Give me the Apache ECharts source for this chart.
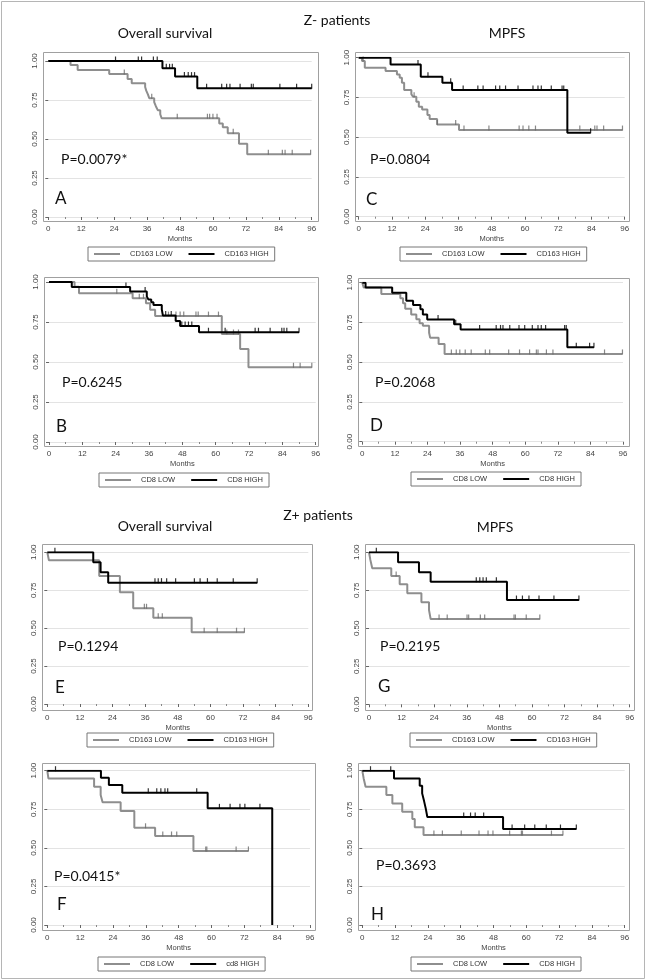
<!DOCTYPE html>
<html>
<head>
<meta charset="utf-8">
<script src="https://cdn.jsdelivr.net/npm/echarts@6/dist/echarts.min.js"></script>
<style>
html,body{margin:0;padding:0;background:#fff;}
#c{width:646px;height:980px;}
</style>
</head>
<body>
<div id="c"></div>
<script>
// ---- Data (time in months, survival probability) ----
const xTicks = [0,12,24,36,48,60,72,84,96];
const yTicks = [0,0.25,0.5,0.75,1];

// A: Z- OS, CD163
const A_low = [[0,1],[8.1,0.974],[10.7,0.942],[22.2,0.917],[28.9,0.885],[30.4,0.857],[35.3,0.833],[35.7,0.81],[36.3,0.786],[36.8,0.762],[38.6,0.736],[39.2,0.71],[39.9,0.685],[40.8,0.659],[41.3,0.633],[62.3,0.60],[63.6,0.575],[65.4,0.537],[69.5,0.47],[72.5,0.403],[95.6,0.403]];
const A_low_cens = [27.7,37.7,47,58,58.8,60,61.5,67.4,80.2,85.3,86.3,88.9,95.6];
const A_high = [[0,1],[41.6,0.953],[46.2,0.90],[54.3,0.825],[96,0.825]];
const A_high_cens = [24.5,32.8,34,38.3,39.7,43,44.2,45.2,49.6,51,52.2,53.3,57.7,63.2,65,66.2,69.9,74,74.7,84.4,90.5,96];

// C: Z- MPFS, CD163
const C_low = [[0,1],[1.2,0.979],[2.2,0.937],[9.7,0.916],[13.8,0.895],[14.8,0.874],[15.6,0.843],[16.4,0.797],[19,0.77],[19.6,0.755],[20.8,0.723],[21.7,0.692],[22.9,0.675],[24.8,0.639],[25.6,0.614],[28.3,0.58],[36.2,0.545],[95.2,0.545]];
const C_low_cens = [1.6,20,28.4,35,38,47,57.9,59.3,61.4,63.8,79.8,85.2,86,88.4,95.2];
const C_high = [[0,1],[11.5,0.958],[22.4,0.88],[30.2,0.843],[33.7,0.797],[75.3,0.528],[83.7,0.528]];
const C_high_cens = [21.4,25,33.2,37.7,43,44.9,49.4,50.9,53,57.5,62.9,64.7,65.9,69.5,73.4,74,83.7];

// B: Z- OS, CD8
const B_low = [[0,1],[9.2,0.97],[10.8,0.93],[30.1,0.898],[34.9,0.867],[36.4,0.827],[38.2,0.787],[62.2,0.675],[68.8,0.581],[71.8,0.467],[94.6,0.467]];
const B_low_cens = [24.4,32.5,34,43,45.7,47.2,48.5,52.9,53.7,57.4,61,64,66.4,68.2,88,90.4,94.6];
const B_high = [[0,1],[8.2,0.969],[29.2,0.94],[35.2,0.91],[35.8,0.89],[36.8,0.873],[37.6,0.857],[40.6,0.829],[41,0.79],[45.6,0.757],[47.2,0.725],[54,0.686],[90,0.686]];
const B_high_cens = [27.7,34.6,42,44,47.8,49,50.2,51.4,57.4,63.4,74.2,75.4,79.6,83.8,84.6,85.6,90];

// D: Z- MPFS, CD8
const D_low = [[0,1],[0.5,0.97],[7,0.929],[14,0.902],[15,0.871],[15.8,0.836],[18,0.80],[19.9,0.77],[21.1,0.745],[22.3,0.73],[24.6,0.685],[25,0.653],[28.1,0.615],[30.3,0.552],[95.8,0.552]];
const D_low_cens = [32.8,34.6,35.9,37.9,40.1,45.3,46.9,53.9,57.9,61.6,64.1,64.7,67.8,70.2,89.2,95.8];
const D_high = [[0,1],[1.2,0.97],[11,0.937],[16.2,0.887],[18.7,0.86],[21.4,0.833],[22.3,0.80],[23.9,0.769],[33.8,0.738],[36.2,0.706],[75.5,0.594],[85.3,0.594]];
const D_high_cens = [27.9,34.4,43.2,49.3,50.9,51.8,54.3,57.7,59.8,62.6,64.7,65.9,67.5,74.5,75.1,78.8,83.7,85.3];

// E: Z+ OS, CD163
const E_low = [[0,1],[0.6,0.947],[19.1,0.844],[26.7,0.736],[31.6,0.631],[39,0.569],[53.1,0.473],[72.5,0.473]];
const E_low_cens = [35.7,36.5,40.8,42.3,57.7,62.5,69.6,72.5];
const E_high = [[0,1],[16.9,0.934],[19.6,0.868],[22.4,0.80],[77.2,0.80]];
const E_high_cens = [2.8,39.6,40.8,42,43.9,47.2,54.1,56.2,58.9,62.5,68.4,77.2];

// G: Z+ MPFS, CD163
const G_low = [[0,1],[0.5,0.95],[1.2,0.895],[8.2,0.844],[11.3,0.79],[14.1,0.73],[19.3,0.671],[22.1,0.62],[22.7,0.561],[62.9,0.561]];
const G_low_cens = [10,25.8,28.8,36.1,36.7,41,42.6,53.4,53.9,57.9,62.9];
const G_high = [[0,1],[10.7,0.934],[18.4,0.868],[22.7,0.807],[50.8,0.686],[77.3,0.686]];
const G_high_cens = [2.7,39.5,40.8,42,43.2,46.9,54.3,56.5,58.9,62.6,68.1,77.3];

// F: Z+ OS, CD8
const F_low = [[0,1],[0.4,0.95],[17.1,0.896],[19.5,0.842],[20.2,0.795],[26.8,0.739],[31.8,0.63],[39.4,0.577],[53.4,0.48],[73.5,0.48]];
const F_low_cens = [35.9,42.2,45.4,47.3,57.9,58.3,69,73.5];
const F_high = [[0,1],[19.6,0.955],[22.5,0.907],[27.4,0.857],[58.6,0.756],[82.2,0]];
const F_high_cens = [3,36.9,40,41.5,43,44,54.6,62.9,66.8,70.4,72.2,77.7];

// H: Z+ MPFS, CD8
const H_low = [[0,1],[0.5,0.95],[1.2,0.896],[8.8,0.842],[11,0.788],[14.6,0.734],[18.3,0.687],[19.2,0.633],[22.4,0.583],[73.4,0.583]];
const H_low_cens = [26.2,29.3,36.2,42.7,46,47.8,53.9,58.2,58.6,69.2,73.4];
const H_high = [[0,1],[11.6,0.95],[21,0.903],[21.9,0.853],[22.6,0.803],[23.2,0.756],[23.8,0.70],[51.5,0.622],[78.3,0.622]];
const H_high_cens = [3,10.4,37.1,39.6,41.3,44.4,54.8,59.4,63.1,67.3,72.5,78.3];

const pValues = {A:'P=0.0079*', C:'P=0.0804', B:'P=0.6245', D:'P=0.2068', E:'P=0.1294', G:'P=0.2195', F:'P=0.0415*', H:'P=0.3693'};

// ---- Layout (pixels) ----
const GRAY = '#8e8e8e', BLACK = '#000000';
const panels = [
  {k:'A', low:A_low, lowC:A_low_cens, high:A_high, highC:A_high_cens, ln:'CD163 LOW', hn:'CD163 HIGH', x0:48.3, x96:311.7, y1:61, y0:217, f:[43,52,318,221], lg:[88,247], p:[61,161], l:[55,201]},
  {k:'C', low:C_low, lowC:C_low_cens, high:C_high, highC:C_high_cens, ln:'CD163 LOW', hn:'CD163 HIGH', x0:358.7, x96:624.7, y1:57.7, y0:216.7, f:[355,52,629,221], lg:[400,247], p:[370,161], l:[366,202]},
  {k:'B', low:B_low, lowC:B_low_cens, high:B_high, highC:B_high_cens, ln:'CD8 LOW', hn:'CD8 HIGH', x0:49, x96:315.7, y1:282, y0:442, f:[44,277,318,446], lg:[99,473], p:[62,384], l:[56,429]},
  {k:'D', low:D_low, lowC:D_low_cens, high:D_high, highC:D_high_cens, ln:'CD8 LOW', hn:'CD8 HIGH', x0:362.3, x96:623, y1:282.7, y0:441.7, f:[358,278,629,446], lg:[411,472], p:[375,384], l:[370,428]},
  {k:'E', low:E_low, lowC:E_low_cens, high:E_high, highC:E_high_cens, ln:'CD163 LOW', hn:'CD163 HIGH', x0:47.3, x96:308.3, y1:552.3, y0:704, f:[42,544,312,710], lg:[87,733], p:[58,648], l:[55,690]},
  {k:'G', low:G_low, lowC:G_low_cens, high:G_high, highC:G_high_cens, ln:'CD163 LOW', hn:'CD163 HIGH', x0:369, x96:629.7, y1:552.3, y0:704.3, f:[365,544,634,710], lg:[410,733], p:[380,648], l:[378,689]},
  {k:'F', low:F_low, lowC:F_low_cens, high:F_high, highC:F_high_cens, ln:'CD8 LOW', hn:'cd8 HIGH', x0:47.3, x96:310, y1:770.7, y0:925, f:[42,763,315,930], lg:[98,957], p:[54,878], l:[57,907]},
  {k:'H', low:H_low, lowC:H_low_cens, high:H_high, highC:H_high_cens, ln:'CD8 LOW', hn:'CD8 HIGH', x0:362.3, x96:624.7, y1:770.7, y0:925, f:[358,763,629,930], lg:[411,957], p:[376,867], l:[371,917]}
];

function survAt(curve, t){
  let s = curve[0][1];
  for (const [ti, si] of curve){ if (ti <= t) s = si; else break; }
  return s;
}

const grid = [], xAxis = [], yAxis = [], series = [], legend = [], graphic = [];
const txtFont = 'Lato, "Open Sans", sans-serif';
const smallFont = '"Liberation Sans", Arial, sans-serif';

graphic.push({type:'rect', silent:true, shape:{x:1.5, y:1.5, width:643, height:977}, style:{fill:null, stroke:'#b5b5b5', lineWidth:1}});

panels.forEach((p, i) => {
  grid.push({left:p.x0, top:p.y1, width:p.x96 - p.x0, height:p.y0 - p.y1});
  xAxis.push({
    gridIndex:i, type:'value', min:0, max:96, interval:12,
    offset: p.f[3] - p.y0,
    axisLine:{show:false},
    axisTick:{show:true, length:3, lineStyle:{color:'#666', width:1}},
    minorTick:{show:true, splitNumber:2, length:2, lineStyle:{color:'#888'}},
    axisLabel:{fontSize:8, color:'#444', margin:4, fontFamily:smallFont},
    splitLine:{show:false},
    name:'Months', nameLocation:'middle', nameGap:14,
    nameTextStyle:{fontSize:7.5, color:'#444', fontFamily:smallFont}
  });
  yAxis.push({
    gridIndex:i, type:'value', min:0, max:1, interval:0.25,
    offset: p.x0 - p.f[0],
    axisLine:{show:false},
    axisTick:{show:true, length:3, lineStyle:{color:'#666', width:1}},
    axisLabel:{rotate:90, fontSize:8, color:'#444', margin:4, formatter:v => v.toFixed(2), fontFamily:smallFont},
    splitLine:{show:true, lineStyle:{color:'#e3e3e3', width:1}}
  });
  series.push({
    name:p.ln, type:'line', step:'end', xAxisIndex:i, yAxisIndex:i,
    data:p.low, showSymbol:false, symbol:'none', color:GRAY,
    lineStyle:{color:GRAY, width:2}, z:3, silent:true
  });
  series.push({
    name:p.hn, type:'line', step:'end', xAxisIndex:i, yAxisIndex:i,
    data:p.high, showSymbol:false, symbol:'none', color:BLACK,
    lineStyle:{color:BLACK, width:2}, z:4, silent:true
  });
  series.push({
    name:p.k + ' low censored', type:'scatter', xAxisIndex:i, yAxisIndex:i,
    data:p.lowC.map(t => [t, survAt(p.low, t)]),
    symbol:'rect', symbolSize:[1.2, 5], symbolOffset:[0, -2],
    itemStyle:{color:'#6a6a6a'}, z:3, silent:true
  });
  series.push({
    name:p.k + ' high censored', type:'scatter', xAxisIndex:i, yAxisIndex:i,
    data:p.highC.map(t => [t, survAt(p.high, t)]),
    symbol:'rect', symbolSize:[1.2, 5], symbolOffset:[0, -2],
    itemStyle:{color:BLACK}, z:4, silent:true
  });
  legend.push({
    left:p.lg[0], top:p.lg[1], data:[p.ln, p.hn], icon:'rect',
    itemWidth:26, itemHeight:2, itemGap:16, padding:[3,6],
    borderColor:'#777', borderWidth:1, selectedMode:false,
    textStyle:{fontSize:7.5, color:'#333', fontFamily:smallFont, padding:[0,0,0,5]}
  });
  graphic.push({type:'rect', silent:true, z:1,
    shape:{x:p.f[0] + 0.5, y:p.f[1] + 0.5, width:p.f[2] - p.f[0], height:p.f[3] - p.f[1]},
    style:{fill:null, stroke:'#a0a0a0', lineWidth:1}});
  graphic.push({type:'text', silent:true, left:p.p[0], top:p.p[1] - 9,
    style:{text:pValues[p.k], fill:'#111', font:'14px ' + txtFont}});
  graphic.push({type:'text', silent:true, left:p.l[0], top:p.l[1] - 11,
    style:{text:p.k, fill:'#111', font:'17px ' + txtFont}});
});

// titles
function title(text, cx, cy){
  graphic.push({type:'text', silent:true, x:cx, y:cy,
    style:{text:text, font:'14px ' + txtFont, fill:'#111', align:'center', verticalAlign:'middle'}});
}
title('Z- patients', 337, 20);
title('Overall survival', 165, 33);
title('MPFS', 507, 33);
title('Z+ patients', 318, 515);
title('Overall survival', 165, 526);
title('MPFS', 495, 527);

const chart = echarts.init(document.getElementById('c'), null, {renderer:'canvas'});
chart.setOption({
  animation:false,
  backgroundColor:'#fff',
  grid, xAxis, yAxis, series, legend, graphic
});
</script>
</body>
</html>
